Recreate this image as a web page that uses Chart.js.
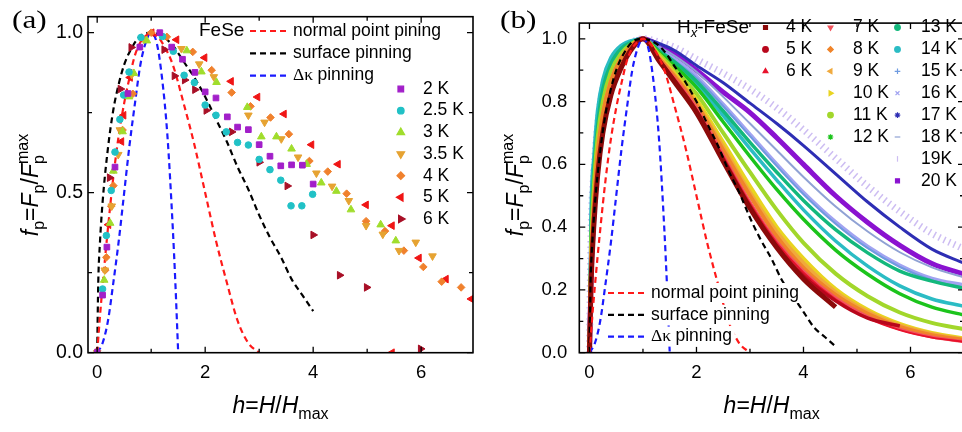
<!DOCTYPE html>
<html>
<head>
<meta charset="utf-8">
<title>Pinning force scaling, FeSe and Hx-FeSe</title>
<script src="https://cdn.jsdelivr.net/npm/chart.js@4.4.1/dist/chart.umd.min.js"></script>
<style>
  html, body { margin: 0; padding: 0; background: #fff; overflow: hidden; }
  #wrap { position: relative; width: 962px; height: 432px; overflow: hidden; }
  canvas { position: absolute; top: 0; }
  #chartA { left: 0; }
  #chartB { left: 481px; }
</style>
</head>
<body>
<div id="wrap">
  <canvas id="chartA" width="481" height="432"></canvas>
  <canvas id="chartB" width="491" height="432"></canvas>
</div>
<script>
// axis ticks
const xMajor = [0, 2, 4, 6];
const xMinor = [1, 3, 5];
const yMajorA = [0, 0.5, 1.0];
const yMinorA = [0.25, 0.75];
const yMajorB = [0, 0.2, 0.4, 0.6, 0.8, 1.0];
const yMinorB = [0.1, 0.3, 0.5, 0.7, 0.9];

// model curves (normal point, surface, delta-kappa pinning)
const hNormal = [0, 0.05, 0.1, 0.2, 0.3, 0.4, 0.5, 0.6, 0.7, 0.8, 0.9, 1.0, 1.1, 1.2, 1.4, 1.6, 1.8, 2.0, 2.2, 2.4, 2.6, 2.8, 3.0];
const fNormal = [0, 0.11, 0.21, 0.39, 0.55, 0.68, 0.78, 0.86, 0.93, 0.97, 0.99, 1.0, 0.99, 0.97, 0.90, 0.78, 0.65, 0.50, 0.35, 0.22, 0.10, 0.03, 0];
const hSurface = [0, 0.02, 0.05, 0.1, 0.2, 0.3, 0.4, 0.5, 0.6, 0.8, 1.0, 1.2, 1.4, 1.6, 1.8, 2.0, 2.2, 2.4, 2.6, 2.8, 3.0, 3.2, 3.4, 3.6, 3.8, 4.0, 4.2, 4.4, 4.6];
const fSurface = [0, 0.22, 0.34, 0.47, 0.64, 0.76, 0.84, 0.90, 0.94, 0.99, 1.0, 0.99, 0.96, 0.91, 0.86, 0.80, 0.73, 0.66, 0.58, 0.51, 0.43, 0.36, 0.30, 0.23, 0.18, 0.13, 0.08, 0.05, 0.02];
const hDk = [0, 0.1, 0.2, 0.3, 0.4, 0.5, 0.6, 0.7, 0.8, 0.9, 1.0, 1.1, 1.2, 1.3, 1.4, 1.45, 1.5];
const fDk = [0, 0.03, 0.10, 0.22, 0.35, 0.50, 0.65, 0.78, 0.90, 0.97, 1.0, 0.97, 0.86, 0.68, 0.39, 0.21, 0];

// FeSe, [h, fp] per temperature
const fese2K = [[0, 0], [0.10, 0.18], [0.18, 0.33], [0.33, 0.58], [0.57, 0.81], [0.79, 0.955], [1.16, 1.0], [1.38, 0.955], [1.58, 0.917], [1.81, 0.876], [2.0, 0.815], [2.2, 0.796], [2.41, 0.737], [2.6, 0.705], [2.8, 0.697], [3.0, 0.65], [3.2, 0.614], [3.4, 0.584], [3.6, 0.587], [3.8, 0.586], [4.0, 0.527]];
const fese2p5K = [[0.10, 0.199], [0.17, 0.366], [0.26, 0.507], [0.33, 0.627], [0.42, 0.729], [0.49, 0.805], [0.59, 0.877], [0.81, 0.985], [1.21, 0.988], [1.41, 0.942], [1.61, 0.867], [1.8, 0.844], [2.0, 0.774], [2.2, 0.742], [2.39, 0.69], [2.6, 0.657], [2.8, 0.649], [3.0, 0.604], [3.2, 0.572], [3.4, 0.539], [3.59, 0.459], [3.79, 0.459], [3.99, 0.495]];
const fese3K = [[0.13, 0.227], [0.24, 0.405], [0.30, 0.568], [0.47, 0.691], [0.59, 0.80], [0.68, 0.873], [0.92, 0.975], [1.66, 0.944], [1.93, 0.878], [2.21, 0.845], [2.78, 0.767], [3.04, 0.675], [3.32, 0.675], [3.6, 0.637], [3.88, 0.589], [4.15, 0.531], [4.43, 0.505], [4.7, 0.447], [5.25, 0.40], [5.53, 0.35]];
const fese3p5K = [[0, 0], [0.14, 0.258], [0.27, 0.458], [0.39, 0.619], [0.42, 0.696], [0.64, 0.869], [0.86, 0.98], [1.56, 0.95], [1.89, 0.902], [2.16, 0.862], [2.8, 0.742], [3.1, 0.72], [3.41, 0.668], [3.72, 0.611], [4.06, 0.561], [4.35, 0.52], [4.66, 0.475], [4.98, 0.397], [5.29, 0.37], [5.59, 0.319], [5.9, 0.345], [6.21, 0.302]];
const fese4K = [[0.15, 0.258], [0.17, 0.298], [0.26, 0.458], [0.30, 0.522], [0.47, 0.696], [0.66, 0.809], [1.0, 1.0], [1.29, 0.987], [1.77, 0.94], [2.12, 0.883], [2.49, 0.813], [2.84, 0.77], [3.21, 0.735], [3.55, 0.683], [3.93, 0.599], [4.27, 0.566], [4.62, 0.497], [4.98, 0.411], [5.33, 0.38], [5.68, 0.319], [6.04, 0.268], [6.38, 0.222], [6.74, 0.204]];
const fese5K = [[0.21, 0.40], [0.45, 0.66], [0.49, 0.742], [0.61, 0.86], [1.01, 1.0], [1.47, 0.978], [1.99, 0.922], [2.48, 0.848], [2.97, 0.799], [3.46, 0.746], [3.97, 0.65], [4.46, 0.589], [4.98, 0.462], [5.46, 0.397], [5.46, 0.0], [5.96, 0.296], [6.46, 0.23], [6.93, 0.168]];
const fese6K = [[0, 0], [0.23, 0.547], [0.43, 0.824], [0.63, 0.954], [1.24, 0.947], [1.43, 0.865], [1.62, 0.852], [1.81, 0.822], [2.02, 0.757], [2.49, 0.69], [3.0, 0.595], [3.52, 0.521], [4.0, 0.368], [4.49, 0.242], [4.99, 0.204], [5.99, 0.012]];

// Hx-FeSe, fp on a common h grid
const hGrid = [0, 0.03, 0.08, 0.15, 0.25, 0.4, 0.6, 0.8, 1.0, 1.3, 1.6, 2.0, 2.5, 3.0, 3.5, 4.0, 4.6, 5.2, 5.8, 6.4, 7.0];
const hx4K  = [0, 0.22, 0.40, 0.56, 0.70, 0.82, 0.91, 0.97, 1.0, 0.93, 0.86, 0.765, 0.61, 0.46, 0.335, 0.235, 0.145];
const hx5K  = [0, 0.22, 0.40, 0.56, 0.70, 0.82, 0.91, 0.97, 1.0, 0.93, 0.865, 0.77, 0.615, 0.465, 0.34, 0.245, 0.165, 0.11, 0.085];
const hx6K  = [0, 0.23, 0.41, 0.57, 0.71, 0.83, 0.915, 0.972, 1.0, 0.935, 0.87, 0.775, 0.625, 0.475, 0.35, 0.255, 0.17, 0.11, 0.072, 0.048, 0.035];
const hx7K  = [0, 0.23, 0.41, 0.57, 0.71, 0.83, 0.915, 0.972, 1.0, 0.935, 0.872, 0.78, 0.63, 0.48, 0.355, 0.26, 0.175, 0.115, 0.075, 0.05, 0.035];
const hx8K  = [0, 0.27, 0.46, 0.63, 0.76, 0.865, 0.94, 0.98, 1.0, 0.938, 0.878, 0.79, 0.645, 0.50, 0.37, 0.27, 0.184, 0.124, 0.082, 0.056, 0.04];
const hx9K  = [0, 0.27, 0.46, 0.63, 0.76, 0.865, 0.94, 0.98, 1.0, 0.94, 0.882, 0.795, 0.655, 0.51, 0.385, 0.285, 0.193, 0.13, 0.087, 0.06, 0.042];
const hx10K = [0, 0.27, 0.46, 0.63, 0.76, 0.865, 0.94, 0.98, 1.0, 0.943, 0.888, 0.805, 0.67, 0.53, 0.40, 0.30, 0.203, 0.137, 0.092, 0.063, 0.045];
const hx11K = [0, 0.32, 0.52, 0.68, 0.80, 0.895, 0.955, 0.985, 1.0, 0.95, 0.90, 0.825, 0.70, 0.575, 0.455, 0.35, 0.252, 0.18, 0.128, 0.095, 0.075];
const hx12K = [0, 0.32, 0.52, 0.68, 0.80, 0.895, 0.955, 0.985, 1.0, 0.956, 0.912, 0.845, 0.735, 0.625, 0.52, 0.425, 0.327, 0.25, 0.188, 0.145, 0.12];
const hx13K = [0, 0.38, 0.57, 0.72, 0.84, 0.92, 0.97, 0.99, 1.0, 0.962, 0.925, 0.865, 0.77, 0.67, 0.575, 0.485, 0.392, 0.318, 0.26, 0.228, 0.205];
const hx14K = [0, 0.45, 0.62, 0.77, 0.87, 0.94, 0.98, 0.995, 1.0, 0.958, 0.918, 0.855, 0.755, 0.65, 0.55, 0.455, 0.356, 0.276, 0.213, 0.171, 0.148];
const hx15K = [0, 0.38, 0.57, 0.72, 0.84, 0.92, 0.97, 0.99, 1.0, 0.965, 0.93, 0.875, 0.785, 0.69, 0.595, 0.505, 0.411, 0.333, 0.273, 0.231, 0.205];
const hx16K = [0, 0.38, 0.57, 0.72, 0.84, 0.92, 0.97, 0.99, 1.0, 0.967, 0.933, 0.88, 0.79, 0.695, 0.60, 0.51, 0.416, 0.338, 0.278, 0.236, 0.215];
const hx17K = [0, 0.38, 0.57, 0.72, 0.84, 0.92, 0.97, 0.99, 1.0, 0.985, 0.962, 0.915, 0.86, 0.795, 0.73, 0.66, 0.57, 0.48, 0.40, 0.33, 0.285];
const hx18K = [0, 0.38, 0.57, 0.72, 0.84, 0.92, 0.97, 0.99, 1.0, 0.975, 0.945, 0.895, 0.815, 0.73, 0.645, 0.56, 0.466, 0.386, 0.32, 0.272, 0.24];
const hx19K = [0, 0.38, 0.57, 0.72, 0.84, 0.92, 0.97, 0.99, 1.0, 0.99, 0.972, 0.935, 0.89, 0.84, 0.78, 0.71, 0.62, 0.53, 0.45, 0.38, 0.33];
const hx20K = [0, 0.24, 0.43, 0.60, 0.74, 0.86, 0.94, 0.985, 1.0, 0.98, 0.95, 0.90, 0.83, 0.765, 0.685, 0.60, 0.50, 0.415, 0.342, 0.284, 0.25];

const sans = '"Liberation Sans", Arial, Helvetica, sans-serif';
const serif = '"Liberation Serif", "Times New Roman", serif';
Chart.defaults.color = '#000';
Chart.defaults.font.family = sans;

const toXY = (hs, fs) => fs.map((f, i) => ({ x: hs[i], y: f }));
const pairsXY = pts => pts.map(([x, y]) => ({ x, y }));

// [label, points, colour, pointStyle, rotation, radius]
const seriesA = [
  ['2 K',   fese2K,   '#a21fc9', 'rect',     0,   4.0],
  ['2.5 K', fese2p5K, '#21c1c6', 'circle',   0,   3.3],
  ['3 K',   fese3K,   '#a0dd2c', 'triangle', 0,   4.4],
  ['3.5 K', fese3p5K, '#e6a332', 'triangle', 180, 4.4],
  ['4 K',   fese4K,   '#f0812d', 'rectRot',  0,   3.8],
  ['5 K',   fese5K,   '#f01515', 'triangle', 270, 4.4],
  ['6 K',   fese6K,   '#a80f26', 'triangle', 90,  4.4]
];

// [label, fp values, colour, pointStyle, rotation, line width, dash]
const seriesB = [
  ['4 K',  hx4K,  '#8c0a0a', 'rect',     0,   5,   null],
  ['5 K',  hx5K,  '#b8071c', 'circle',   0,   3.5, null],
  ['6 K',  hx6K,  '#e8122c', 'triangle', 0,   2,   null],
  ['7 K',  hx7K,  '#f2545e', 'triangle', 180, 3,   null],
  ['8 K',  hx8K,  '#f0842a', 'rectRot',  0,   4,   null],
  ['9 K',  hx9K,  '#f0a93c', 'triangle', 270, 4,   null],
  ['10 K', hx10K, '#e9d420', 'triangle', 90,  4,   null],
  ['11 K', hx11K, '#a2d72b', 'circle',   0,   4,   null],
  ['12 K', hx12K, '#1cc41c', 'star',     0,   3.5, null],
  ['13 K', hx13K, '#13b87c', 'circle',   0,   3.5, null],
  ['14 K', hx14K, '#2bbcc4', 'circle',   0,   3.5, null],
  ['15 K', hx15K, '#6f9be0', 'cross',    0,   2,   null],
  ['16 K', hx16K, 'rgba(130,132,236,0.75)', 'crossRot', 0, 4, null],
  ['17 K', hx17K, '#2e2eb4', 'star',     0,   3,   null],
  ['18 K', hx18K, '#90a2d4', 'line',     0,   2,   null],
  ['19K',  hx19K, '#cdbdf2', 'line',     90,  7,   [1.5, 4]],
  ['20 K', hx20K, '#8a12d0', 'rect',     0,   5,   null]
];

const theoryA = [
  ['normal point pining', toXY(hNormal, fNormal), '#ff1a1a'],
  ['surface pinning', toXY(hSurface.slice(0, 26), fSurface.slice(0, 26)), '#000000'],
  ['pinning', toXY(hDk, fDk), '#1a1aff']
];
const theoryB = [
  ['normal point pining', toXY(hNormal, fNormal), '#ff1a1a'],
  ['surface pinning', toXY(hSurface, fSurface), '#000000'],
  ['pinning', toXY(hDk, fDk), '#1a1aff']
];

function theorySet(t) {
  return {
    label: t[0], data: t[1], showLine: true, pointRadius: 0,
    borderColor: t[2], borderWidth: 2.2, borderDash: [6, 4],
    cubicInterpolationMode: 'monotone', fill: false
  };
}

function fontOf(p) {
  return (p.i ? 'italic ' : '') + p.s + 'px ' + (p.f || sans);
}
function richWidth(ctx, parts) {
  let w = 0, hold = 0;
  for (const p of parts) {
    ctx.font = fontOf(p);
    const pw = ctx.measureText(p.t).width;
    if (p.hold) { hold = pw; continue; }
    w += Math.max(pw, hold); hold = 0;
  }
  return w;
}
function drawRich(ctx, parts, x, y) {
  let cx = x, hold = 0;
  for (const p of parts) {
    ctx.font = fontOf(p);
    const pw = ctx.measureText(p.t).width;
    ctx.fillText(p.t, cx, y + (p.dy || 0));
    if (p.hold) { hold = pw; continue; }
    cx += Math.max(pw, hold); hold = 0;
  }
  return cx;
}

const xTitle = [
  { t: 'h', s: 23, i: 1 }, { t: '=', s: 23 }, { t: 'H', s: 23, i: 1 }, { t: '/', s: 23 },
  { t: 'H', s: 23, i: 1 }, { t: 'max', s: 16, dy: 6 }
];
const yTitle = [
  { t: 'f', s: 23, i: 1 }, { t: 'p', s: 16, dy: 6 }, { t: '=', s: 23 }, { t: 'F', s: 23, i: 1 },
  { t: 'p', s: 16, dy: 6 }, { t: '/', s: 23 }, { t: 'F', s: 23, i: 1 },
  { t: 'p', s: 16, dy: 6, hold: 1 }, { t: 'max', s: 16, dy: -10 }
];

// box, inward ticks and axis titles
function framePlugin(yMajor, yMinor, yTitleX, panel, panelX) {
  return {
    id: 'frame',
    afterDraw(chart) {
      const { ctx, chartArea: a, scales: { x, y } } = chart;
      ctx.save();
      ctx.strokeStyle = '#000';
      ctx.lineWidth = 1.6;
      ctx.strokeRect(a.left, a.top, a.right - a.left, a.bottom - a.top);
      ctx.lineWidth = 1.3;
      ctx.beginPath();
      const xt = (vals, len) => vals.forEach(v => {
        const px = x.getPixelForValue(v);
        ctx.moveTo(px, a.bottom); ctx.lineTo(px, a.bottom - len);
        ctx.moveTo(px, a.top); ctx.lineTo(px, a.top + len);
      });
      const yt = (vals, len) => vals.forEach(v => {
        const py = y.getPixelForValue(v);
        ctx.moveTo(a.left, py); ctx.lineTo(a.left + len, py);
        ctx.moveTo(a.right, py); ctx.lineTo(a.right - len, py);
      });
      xt(xMajor, 6); xt(xMinor, 4); yt(yMajor, 6); yt(yMinor, 4);
      ctx.stroke();

      ctx.fillStyle = '#000';
      ctx.textBaseline = 'alphabetic';
      ctx.textAlign = 'left';
      const cx = (a.left + a.right) / 2;
      drawRich(ctx, xTitle, cx - richWidth(ctx, xTitle) / 2, 413);

      ctx.save();
      ctx.translate(yTitleX, 185);
      ctx.rotate(-Math.PI / 2);
      drawRich(ctx, yTitle, -richWidth(ctx, yTitle) / 2, 0);
      ctx.restore();

      ctx.save();
      ctx.translate(panelX, 28);
      ctx.scale(1.25, 1);
      ctx.font = '25px ' + serif;
      ctx.fillText(panel, 0, 0);
      ctx.restore();
      ctx.restore();
    }
  };
}

function drawMarker(ctx, color, style, rot, r, x, y) {
  ctx.fillStyle = color;
  ctx.strokeStyle = color;
  ctx.lineWidth = 1.2;
  Chart.helpers.drawPoint(ctx, { pointStyle: style, rotation: rot, radius: r, borderWidth: 1.2 }, x, y);
}

function theoryLegend(ctx, x0, rows, withBox) {
  rows.forEach((row, i) => {
    const [label, color, cy] = row;
    let tx = x0 + 43;
    const pre = i === 2 ? 'Δκ ' : '';
    ctx.font = '17.5px ' + serif;
    const preW = pre ? ctx.measureText(pre).width : 0;
    ctx.font = '17.5px ' + sans;
    const w = preW + ctx.measureText(label).width;
    if (withBox) {
      ctx.fillStyle = '#fff';
      ctx.fillRect(tx - 3, cy - 10, w + 6, 20);
    }
    ctx.strokeStyle = color;
    ctx.lineWidth = 2.2;
    ctx.setLineDash([6, 4]);
    ctx.beginPath();
    ctx.moveTo(x0, cy); ctx.lineTo(x0 + 37, cy);
    ctx.stroke();
    ctx.setLineDash([]);
    ctx.fillStyle = '#000';
    if (pre) {
      ctx.font = '17.5px ' + serif;
      ctx.fillText(pre, tx, cy);
      tx += preW;
    }
    ctx.font = '17.5px ' + sans;
    ctx.fillText(label, tx, cy);
  });
}

const legendA = {
  id: 'legendA',
  afterDraw(chart) {
    const ctx = chart.ctx;
    ctx.save();
    ctx.textBaseline = 'middle';
    ctx.textAlign = 'left';
    ctx.fillStyle = '#000';
    ctx.font = '19px ' + sans;
    ctx.fillText('FeSe', 199, 31);
    theoryLegend(ctx, 250, theoryA.map((t, i) => [t[0], t[2], 31 + i * 22.3]), false);
    seriesA.forEach((s, i) => {
      const cy = 89 + i * 21.67;
      drawMarker(ctx, s[2], s[3], s[4], s[5], 400.8, cy);
      ctx.fillStyle = '#000';
      ctx.font = '17.5px ' + sans;
      ctx.fillText(s[0], 423, cy);
    });
    ctx.restore();
  }
};

const legendB = {
  id: 'legendB',
  afterDraw(chart) {
    const ctx = chart.ctx;
    ctx.save();
    ctx.textBaseline = 'middle';
    ctx.textAlign = 'left';
    ctx.fillStyle = '#000';
    drawRich(ctx, [{ t: 'H', s: 19 }, { t: 'x', s: 13, i: 1, dy: 5 }, { t: '-FeSe', s: 19 }], 196, 28);
    const cols = [[284.5, 305, 0], [349.5, 372, 3], [416.5, 440, 9]];
    seriesB.forEach((s, i) => {
      const c = i < 3 ? cols[0] : (i < 9 ? cols[1] : cols[2]);
      const cy = 27.5 + (i - c[2]) * 21.9;
      drawMarker(ctx, s[2], s[3], s[4], 2.8, c[0], cy);
      ctx.fillStyle = '#000';
      ctx.font = '17.5px ' + sans;
      ctx.fillText(s[0], c[1], cy);
    });
    theoryLegend(ctx, 127, theoryB.map((t, i) => [t[0], t[2], 293 + i * 21.8]), true);
    ctx.restore();
  }
};

function scalesFor(xmin, xmax, yMajor, yWidth, yPad, ySize) {
  return {
    x: {
      type: 'linear', min: xmin, max: xmax,
      grid: { display: false, drawTicks: false }, border: { display: false },
      afterBuildTicks: s => { s.ticks = xMajor.map(v => ({ value: v })); },
      afterFit: s => { s.height = 79.3; },
      ticks: { font: { size: 18.5 }, color: '#000', padding: 9, maxRotation: 0, autoSkip: false }
    },
    y: {
      type: 'linear', min: 0, max: 1.05,
      grid: { display: false, drawTicks: false }, border: { display: false },
      afterBuildTicks: s => { s.ticks = yMajor.map(v => ({ value: v })); },
      afterFit: s => { s.width = yWidth; },
      ticks: { font: { size: ySize }, color: '#000', padding: yPad, autoSkip: false,
               callback: v => v.toFixed(1) }
    }
  };
}

new Chart(document.getElementById('chartA'), {
  type: 'scatter',
  data: {
    datasets: seriesA.map(s => ({
      label: s[0], data: pairsXY(s[1]), showLine: false,
      pointStyle: s[3], pointRotation: s[4], pointRadius: s[5],
      backgroundColor: s[2], borderColor: s[2], pointBorderWidth: 1
    })).concat(theoryA.map(theorySet))
  },
  options: {
    responsive: false, animation: false,
    layout: { padding: { left: 0, right: 8, top: 11.5, bottom: 0 } },
    plugins: { legend: { display: false }, tooltip: { enabled: false } },
    scales: scalesFor(-0.17, 6.96, yMajorA, 88, 5, 19.5)
  },
  plugins: [framePlugin(yMajorA, yMinorA, 38, '(a)', 12), legendA]
});

new Chart(document.getElementById('chartB'), {
  type: 'scatter',
  data: {
    datasets: theoryB.map(theorySet).concat(seriesB.map(s => ({
      label: s[0], data: toXY(hGrid, s[1]), showLine: true,
      pointRadius: 0, borderColor: s[2], backgroundColor: s[2],
      borderWidth: s[5], borderDash: s[6] || [],
      cubicInterpolationMode: 'monotone', fill: false
    })))
  },
  options: {
    responsive: false, animation: false,
    layout: { padding: { left: 0, right: 8, top: 11.5, bottom: 0 } },
    plugins: { legend: { display: false }, tooltip: { enabled: false } },
    scales: scalesFor(-0.19, 7.0, yMajorB, 98.3, 12, 18.5)
  },
  plugins: [framePlugin(yMajorB, yMinorB, 42, '(b)', 19), legendB]
});
</script>
</body>
</html>
